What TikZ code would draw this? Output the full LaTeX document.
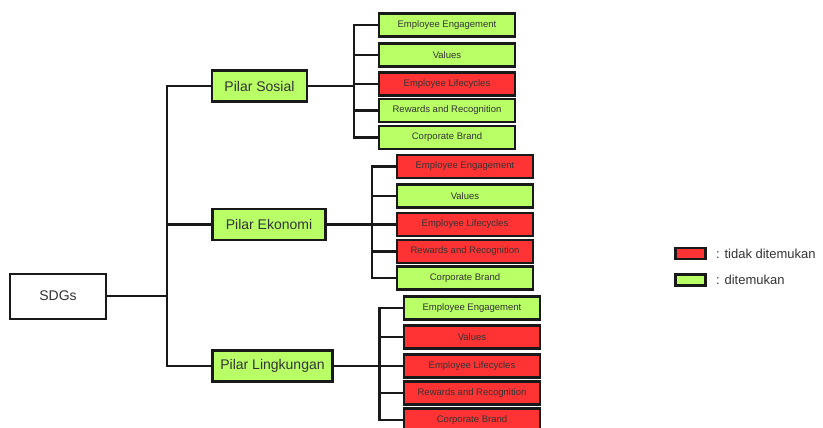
\documentclass[tikz,border=0pt]{standalone}
\usepackage{fontspec}
\setmainfont{Liberation Sans}
\definecolor{found}{RGB}{185,255,102}
\definecolor{notfound}{RGB}{255,51,51}
\begin{document}
\begin{tikzpicture}[
    x=1pt, y=-1pt,
    every node/.style={font=\fontsize{9.5}{11}\selectfont, text=black!80},
    conn/.style={draw=black!90, line width=2.2pt},
    rootbox/.style={rectangle, draw=black!90, line width=2pt, fill=white,
                    minimum width=96pt, minimum height=45pt, font=\fontsize{14}{16}\selectfont},
    pilarbox/.style={rectangle, draw=black!90, line width=2.4pt, fill=found,
                     minimum height=31pt, inner sep=0pt, font=\fontsize{14}{16}\selectfont},
    leafbox/.style={rectangle, draw=black!90, line width=2.4pt, minimum width=136pt,
                    minimum height=23pt, inner sep=0pt},
    ok/.style={leafbox, fill=found},
    no/.style={leafbox, fill=notfound},
    legbox/.style={rectangle, draw=black!90, line width=2.2pt, minimum width=30pt,
                   minimum height=11pt, inner sep=0pt}
]
  \useasboundingbox (0,0) rectangle (823,428);

  % root
  \node[rootbox] (sdg) at (58,296) {SDGs};
  \coordinate (sdg-j) at (167,296);

  % pilar boxes
  \node[pilarbox, minimum width=95pt]  (ps) at (259.5,86)  {Pilar Sosial};
  \node[pilarbox, minimum width=113pt] (pe) at (269,224.5) {Pilar Ekonomi};
  \node[pilarbox, minimum width=120pt] (pl) at (272.5,366) {Pilar Lingkungan};

  \draw[conn, line width=2.8pt] (sdg.east) -- (sdg-j);
  \draw[conn] (ps.west) -| (sdg-j) |- (pl.west);
  \draw[conn] (sdg-j |- pe.west) -- (pe.west);

  % Pilar Sosial leaves
  \node[ok] (ps-1) at (447,25)    {Employee Engagement};
  \node[ok] (ps-2) at (447,55)    {Values};
  \node[no] (ps-3) at (447,84)    {Employee Lifecycles};
  \node[ok] (ps-4) at (447,110.5) {Rewards and Recognition};
  \node[ok] (ps-5) at (447,137.5) {Corporate Brand};
  \coordinate (ps-j) at (354,86);
  \draw[conn] (ps.east) -- (ps-j);
  \draw[conn] (ps-1.west) -| (ps-j) |- (ps-5.west);
  \foreach \i in {2,3,4} \draw[conn] (ps-j |- ps-\i.west) -- (ps-\i.west);

  % Pilar Ekonomi leaves
  \node[no] (pe-1) at (465,166.5) {Employee Engagement};
  \node[ok] (pe-2) at (465,196)   {Values};
  \node[no] (pe-3) at (465,224.5) {Employee Lifecycles};
  \node[no] (pe-4) at (465,251.5) {Rewards and Recognition};
  \node[ok] (pe-5) at (465,278)   {Corporate Brand};
  \coordinate (pe-j) at (372,224.5);
  \draw[conn] (pe.east) -- (pe-j);
  \draw[conn] (pe-1.west) -| (pe-j) |- (pe-5.west);
  \foreach \i in {2,3,4} \draw[conn] (pe-j |- pe-\i.west) -- (pe-\i.west);

  % Pilar Lingkungan leaves
  \node[ok] (pl-1) at (472,308)   {Employee Engagement};
  \node[no] (pl-2) at (472,337)   {Values};
  \node[no] (pl-3) at (472,366)   {Employee Lifecycles};
  \node[no] (pl-4) at (472,393)   {Rewards and Recognition};
  \node[no] (pl-5) at (472,420)   {Corporate Brand};
  \coordinate (pl-j) at (379.5,366);
  \draw[conn] (pl.east) -- (pl-j);
  \draw[conn] (pl-1.west) -| (pl-j) |- (pl-5.west);
  \foreach \i in {2,3,4} \draw[conn] (pl-j |- pl-\i.west) -- (pl-\i.west);

  % legend
  \node[legbox, fill=notfound] (leg-no) at (690.5,253.5) {};
  \node[legbox, fill=found]    (leg-ok) at (690.5,280)   {};
  \node[anchor=west, font=\fontsize{13}{15}\selectfont] (leg-no-t) at ([xshift=6pt]leg-no.east) {: tidak ditemukan};
  \node[anchor=west, font=\fontsize{13}{15}\selectfont] (leg-ok-t) at ([xshift=6pt]leg-ok.east) {: ditemukan};
\end{tikzpicture}
\end{document}
